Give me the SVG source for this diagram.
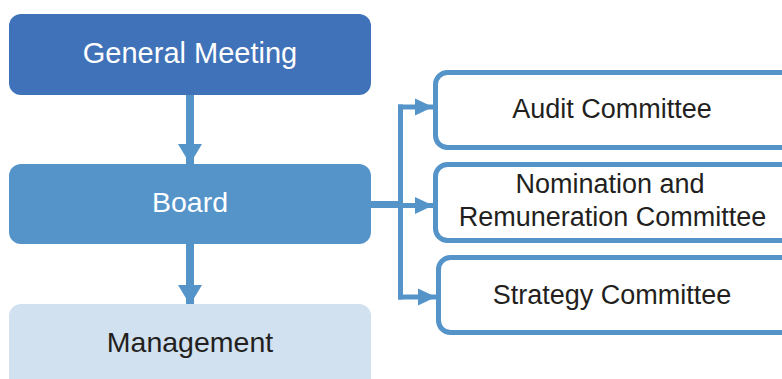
<svg xmlns="http://www.w3.org/2000/svg" width="782" height="379" viewBox="0 0 782 379">
<defs>
<style>
.t{font-family:"Liberation Sans",Arial,Helvetica,sans-serif;text-anchor:middle}
.w{fill:#ffffff}
.d{fill:#231f20}
.com{fill:#ffffff;stroke:#5494c9;stroke-width:5}
.c{fill:none;stroke:#5494c9}
</style>
<marker id="ad" markerUnits="userSpaceOnUse" markerWidth="20" markerHeight="24" refX="20" refY="12" orient="auto">
<path d="M0,0 L20,12 L0,24 z" fill="#5494c9"/>
</marker>
<marker id="ar" markerUnits="userSpaceOnUse" markerWidth="18" markerHeight="18" refX="18" refY="9" orient="auto">
<path d="M0,0.5 L18,9 L0,17.5 z" fill="#5494c9"/>
</marker>
</defs>
<g id="connectors">
<path class="c" stroke-width="8" d="M190,95 V164" marker-end="url(#ad)"/>
<path class="c" stroke-width="8" d="M190,244 V305" marker-end="url(#ad)"/>
<path class="c" stroke-width="7" d="M371,204.5 H402"/>
<path class="c" stroke-width="5" d="M400.5,104.5 V299.5"/>
<path class="c" stroke-width="5" d="M398,107 H433" marker-end="url(#ar)"/>
<path class="c" stroke-width="5" d="M398,205.5 H433" marker-end="url(#ar)"/>
<path class="c" stroke-width="5" d="M398,297 H436" marker-end="url(#ar)"/>
</g>
<g id="general-meeting">
<rect x="9" y="14" width="362" height="81" rx="12" fill="#3f72b8"/>
<text class="t w" x="190" y="63" font-size="29">General Meeting</text>
</g>
<g id="board">
<rect x="9" y="164" width="362" height="80" rx="12" fill="#5494c9"/>
<text class="t w" x="190" y="212" font-size="28.5">Board</text>
</g>
<g id="management">
<rect x="9" y="304" width="362" height="90" rx="12" fill="#d1e1f0"/>
<text class="t d" x="190" y="352" font-size="28.5">Management</text>
</g>
<g id="audit-committee">
<rect class="com" x="435.5" y="72.5" width="380" height="75" rx="12"/>
<text class="t d" x="612" y="118" font-size="27">Audit Committee</text>
</g>
<g id="nomination-committee">
<rect class="com" x="435.5" y="164.5" width="380" height="76" rx="12"/>
<text class="t d" x="610" y="193" font-size="27">Nomination and</text>
<text class="t d" x="612.5" y="226" font-size="27">Remuneration Committee</text>
</g>
<g id="strategy-committee">
<rect class="com" x="438.5" y="257.5" width="380" height="75" rx="12"/>
<text class="t d" x="612" y="304" font-size="27">Strategy Committee</text>
</g>
</svg>
